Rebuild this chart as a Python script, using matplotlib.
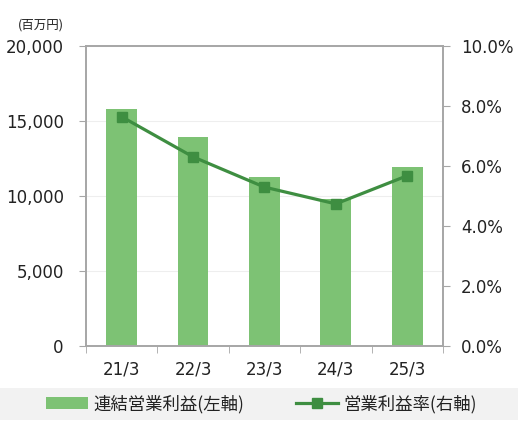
import matplotlib.pyplot as plt
from matplotlib.patches import Rectangle
from matplotlib.ticker import FuncFormatter, MultipleLocator

plt.rcParams['font.family'] = ['DejaVu Sans', 'Noto Sans CJK JP']

years = ["21/3", "22/3", "23/3", "24/3", "25/3"]
op_profit = [15800, 13900, 11250, 9800, 11900]      # 百万円
op_margin = [7.64, 6.30, 5.29, 4.73, 5.67]          # %

bar_color = "#7dc274"
line_color = "#3e8e41"
spine_color = "#a6a6a6"

fig = plt.figure(figsize=(5.18, 4.29), dpi=100)
ax = fig.add_axes([0.166, 0.1946, 0.689, 0.698])
ax2 = ax.twinx()

x = list(range(len(years)))
bars = ax.bar(x, op_profit, width=0.43, color=bar_color, zorder=2,
              label="連結営業利益(左軸)")
line, = ax2.plot(x, op_margin, color=line_color, lw=2.3, marker="s",
                 markersize=6.5, label="営業利益率(右軸)", zorder=3)

ax.set_xlim(-0.5, len(years) - 0.5)
ax.set_ylim(0, 20000)
ax2.set_ylim(0, 10)
ax.yaxis.set_major_locator(MultipleLocator(5000))
ax2.yaxis.set_major_locator(MultipleLocator(2))
ax.yaxis.set_major_formatter(FuncFormatter(lambda v, p: f"{v:,.0f}"))
ax2.yaxis.set_major_formatter(FuncFormatter(lambda v, p: f"{v:.1f}%"))

ax.set_xticks(x)
ax.set_xticklabels(years)
ax.set_xticks([i + 0.5 for i in range(-1, len(years))], minor=True)
ax.tick_params(axis="x", which="major", length=0, pad=11, labelsize=12, colors="#222222")
ax.tick_params(axis="x", which="minor", length=5, color=spine_color)
ax.tick_params(axis="y", length=5, pad=11, color=spine_color, labelsize=12, labelcolor="#222222")
ax2.tick_params(axis="y", length=5, pad=8, color=spine_color, labelsize=12, labelcolor="#222222")

ax.grid(axis="y", color="#eeeeee", lw=0.8, zorder=0)
for a in (ax, ax2):
    for s in a.spines.values():
        s.set_color(spine_color)
        s.set_linewidth(1.2)

fig.text(0.035, 0.942, "(百万円)", fontsize=9, va="center", color="#222222",
         family=["Noto Sans CJK JP", "DejaVu Sans"])

fig.add_artist(Rectangle((0, 0.021), 1, 0.0746, transform=fig.transFigure,
                         facecolor="#f2f2f2", edgecolor="none", zorder=0))
fig.legend([bars, line], ["連結営業利益(左軸)", "営業利益率(右軸)"],
           loc="center", bbox_to_anchor=(0.505, 0.058), ncol=2, frameon=False,
           prop={"family": ["Noto Sans CJK JP", "DejaVu Sans"], "size": 12.5},
           handlelength=2.4, columnspacing=3.0,
           handletextpad=0.3, labelcolor="#222222")

fig.savefig("out.png", dpi=100)
